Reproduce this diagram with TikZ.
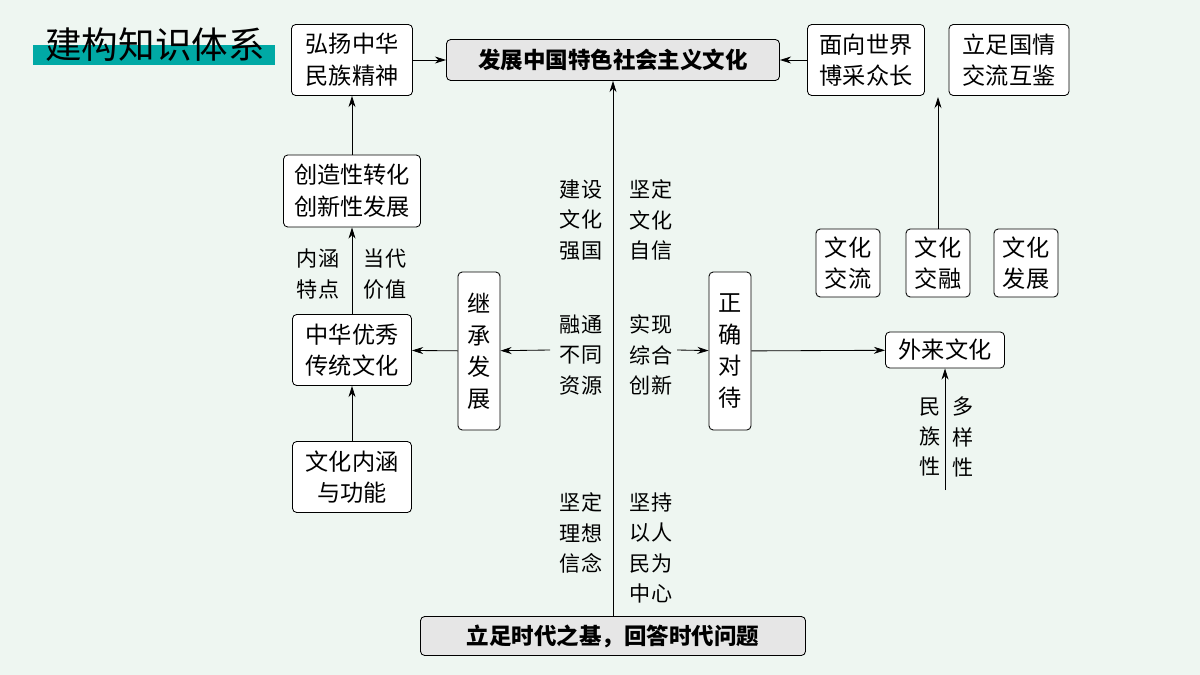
\documentclass[tikz,border=0pt]{standalone}
\usepackage{fontspec}
\newfontfamily\cjk{Noto Sans CJK SC}
\usetikzlibrary{arrows.meta}
\definecolor{bg}{HTML}{EEF6F1}
\definecolor{teal}{HTML}{00A9A5}
\definecolor{gbox}{HTML}{E6E6E6}
\begin{document}
\begin{tikzpicture}[x=0.05cm,y=-0.05cm,
  box/.style={draw,line width=1.2pt,rounded corners=6pt,fill=white,align=center,inner sep=0pt,font=\cjk\fontsize{33}{45}\selectfont},
  gbox/.style={box,fill=gbox,font=\cjk\bfseries\fontsize{32}{43}\selectfont},
  lab/.style={align=center,font=\cjk\fontsize{30}{43}\selectfont},
  arr/.style={-{Stealth[length=16pt,width=10pt]},line width=1.2pt}]
\fill[bg] (0,0) rectangle (1200,675);
\useasboundingbox (0,0) rectangle (1200,675);
\fill[teal] (33,45) rectangle (275,65);
\node[font=\cjk\fontsize{52}{56}\selectfont] (title) at (155,45) {建构知识体系};
\node[box,minimum width=121*0.05cm,minimum height=71*0.05cm] (hy) at (352,60) {弘扬中华\\民族精神};
\node[gbox,minimum width=333*0.05cm,minimum height=41*0.05cm] (fz) at (613,60) {发展中国特色社会主义文化};
\node[box,minimum width=117*0.05cm,minimum height=71*0.05cm] (mx) at (866,60) {面向世界\\博采众长};
\node[box,minimum width=120*0.05cm,minimum height=71*0.05cm] (lz) at (1009,60) {立足国情\\交流互鉴};
\node[box,minimum width=137*0.05cm,minimum height=72*0.05cm] (cz) at (352,191) {创造性转化\\创新性发展};
\node[box,minimum width=119*0.05cm,minimum height=71*0.05cm] (zh) at (352,350) {中华优秀\\传统文化};
\node[box,minimum width=119*0.05cm,minimum height=71*0.05cm] (nh) at (352,477) {文化内涵\\与功能};
\node[box,minimum width=42*0.05cm,minimum height=158*0.05cm] (jc) at (479,351) {继\\承\\发\\展};
\node[box,minimum width=42*0.05cm,minimum height=158*0.05cm] (zq) at (730,351) {正\\确\\对\\待};
\node[box,minimum width=119*0.05cm,minimum height=36*0.05cm] (wl) at (945,350) {外来文化};
\node[box,minimum width=64*0.05cm,minimum height=68*0.05cm] (jl) at (848,263) {文化\\交流};
\node[box,minimum width=64*0.05cm,minimum height=68*0.05cm] (jr) at (938,263) {文化\\交融};
\node[box,minimum width=64*0.05cm,minimum height=68*0.05cm] (fzh) at (1026,263) {文化\\发展};
\node[gbox,minimum width=385*0.05cm,minimum height=39*0.05cm] (bt) at (613,636) {立足时代之基，回答时代问题};
\coordinate (cl) at (550,350);
\coordinate (cr) at (677,350);
\coordinate (jrtop) at (938,97);
\coordinate (mzb) at (945,490);
\draw[arr] (bt.north) -- (fz.south);
\draw[arr] (hy) -- (fz);
\draw[arr] (mx) -- (fz);
\draw[arr] (jr.north) -- (jrtop);
\draw[arr] (cz) -- (hy);
\draw[arr] (zh) -- (cz);
\draw[arr] (nh) -- (zh);
\draw[arr] (jc) -- (zh);
\draw[arr] (cl) -- (jc);
\draw[arr] (cr) -- (zq);
\draw[arr] (zq) -- (wl);
\draw[arr] (mzb) -- (wl);
\node[lab] (l1) at (581,220) {建设\\文化\\强国};
\node[lab] (l2) at (581,355) {融通\\不同\\资源};
\node[lab] (l3) at (581,533) {坚定\\理想\\信念};
\node[lab] (r1) at (651,220) {坚定\\文化\\自信};
\node[lab] (r2) at (651,355) {实现\\综合\\创新};
\node[lab] (r3) at (651,548) {坚持\\以人\\民为\\中心};
\node[lab] (n1) at (318,274) {内涵\\特点};
\node[lab] (n2) at (385,274) {当代\\价值};
\node[lab] (m1) at (930,437) {民\\族\\性};
\node[lab] (m2) at (963,437) {多\\样\\性};
\end{tikzpicture}
\end{document}
